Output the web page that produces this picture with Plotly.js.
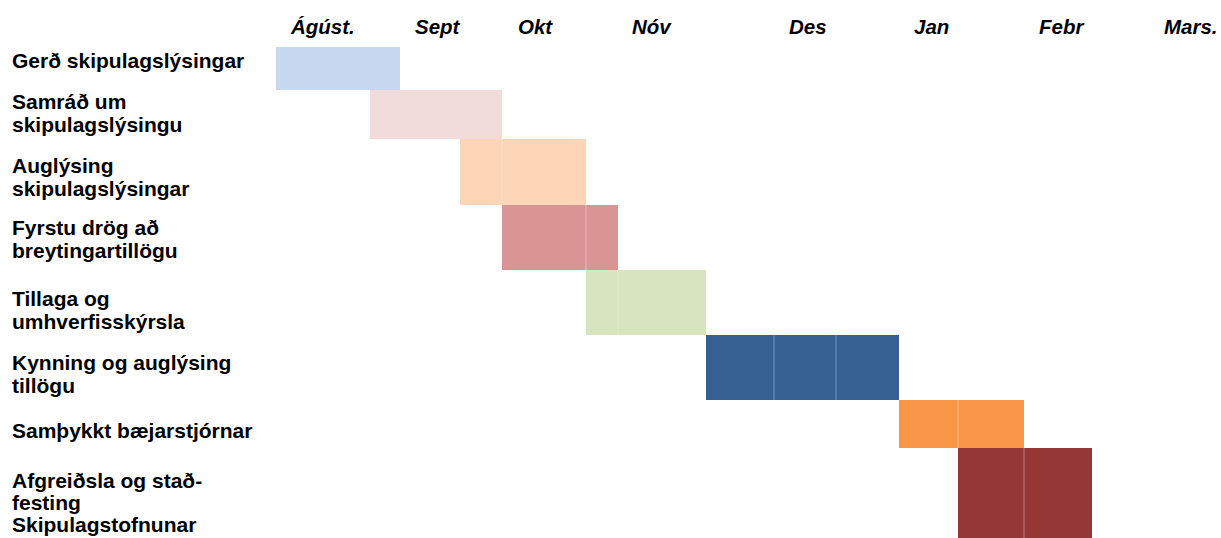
<!DOCTYPE html>
<html>
<head>
<meta charset="utf-8">
<script src="https://cdn.plot.ly/plotly-3.0.1.min.js"></script>
<style>html,body{margin:0;padding:0;background:#fff;}#chart{width:1221px;height:538px;}</style>
</head>
<body>
<div id="chart"></div>
<script>
// ---- Data ----
const tasks = [
  'Gerð skipulagslýsingar',
  'Samráð um\nskipulagslýsingu',
  'Auglýsing\nskipulagslýsingar',
  'Fyrstu drög að\nbreytingartillögu',
  'Tillaga og\numhverfisskýrsla',
  'Kynning og auglýsing\ntillögu',
  'Samþykkt bæjarstjórnar',
  'Afgreiðsla og stað-\nfesting\nSkipulagstofnunar'
];
// task start / end on the timeline scale
const taskStart = [276, 370, 460, 502, 586, 706, 899, 958];
const taskEnd   = [400, 502, 586, 618, 706, 899, 1024, 1092];
// month labels and their places on the timeline scale
const months   = ['Ágúst.', 'Sept', 'Okt', 'Nóv', 'Des', 'Jan', 'Febr', 'Mars.'];
const monthPos = [322, 438, 535, 652, 808, 931, 1061, 1191];
// table column edges on the timeline scale (faint cell borders)
const tableCols = [502, 586, 618, 774, 836, 958, 1024];

// ---- Styles / layout constants ----
const colors = ['#c6d9f1', '#f2dcdb', '#fbd5b5', '#d99594', '#d7e4bd', '#366092', '#f79646', '#953735'];
const rowEdges = [47, 90, 139, 205, 270, 335, 400, 448, 540];
const labelFirstLine = [60, 101.5, 165, 227, 298, 362, 430, 480];
const lineStep = [23, 23, 23, 23, 23, 23, 23, 22];
const FONT = 'Liberation Sans, Arial, sans-serif';

const yCenter = [], yHeight = [], dur = [];
for (let i = 0; i < tasks.length; i++) {
  yCenter.push((rowEdges[i] + rowEdges[i + 1]) / 2);
  yHeight.push(rowEdges[i + 1] - rowEdges[i]);
  dur.push(taskEnd[i] - taskStart[i]);
}

const trace = {
  type: 'bar',
  orientation: 'h',
  base: taskStart,
  x: dur,
  y: yCenter,
  width: yHeight,
  marker: {color: colors, line: {width: 0}},
  hoverinfo: 'skip',
  showlegend: false
};

const annotations = [];
tasks.forEach((t, i) => {
  t.split('\n').forEach((line, k) => {
    annotations.push({
      text: '<b>' + line + '</b>',
      x: 10, y: labelFirstLine[i] + k * lineStep[i],
      xref: 'x', yref: 'y',
      xanchor: 'left', yanchor: 'middle',
      showarrow: false,
      font: {family: FONT, size: 21, color: '#000'}
    });
  });
});
months.forEach((m, i) => {
  annotations.push({
    text: '<b><i>' + m + '</i></b>',
    x: monthPos[i], y: 26,
    xref: 'x', yref: 'y',
    xanchor: 'center', yanchor: 'middle',
    showarrow: false,
    font: {family: FONT, size: 20.5, color: '#000'}
  });
});

const shapes = [];
tasks.forEach((t, i) => {
  tableCols.forEach(c => {
    if (c > taskStart[i] && c < taskEnd[i]) {
      shapes.push({
        type: 'line', xref: 'x', yref: 'y',
        x0: c, x1: c, y0: rowEdges[i], y1: rowEdges[i + 1],
        line: {color: 'rgba(255,255,255,0.35)', width: 1}
      });
    }
  });
});

const layout = {
  width: 1221, height: 538,
  margin: {l: 0, r: 0, t: 0, b: 0},
  paper_bgcolor: '#fff', plot_bgcolor: '#fff',
  xaxis: {range: [0, 1221], visible: false, fixedrange: true},
  yaxis: {range: [538, 0], visible: false, fixedrange: true},
  annotations: annotations,
  shapes: shapes,
  showlegend: false
};

Plotly.newPlot('chart', [trace], layout, {staticPlot: true, displayModeBar: false});
</script>
</body>
</html>
